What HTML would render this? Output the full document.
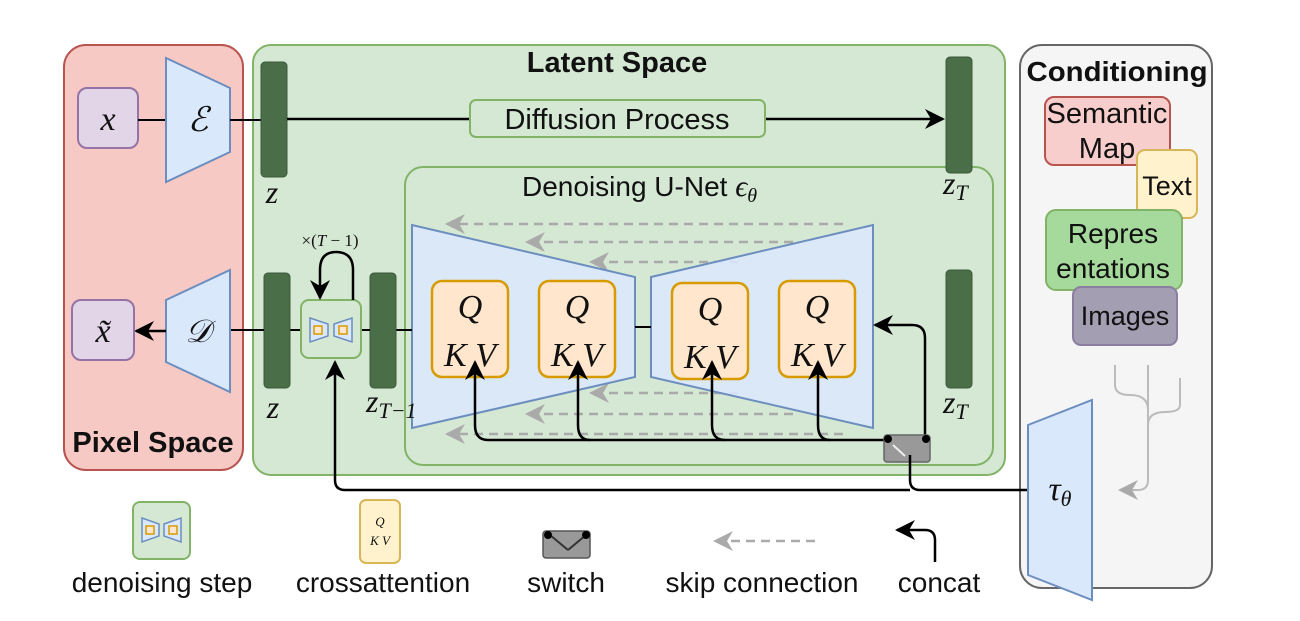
<!DOCTYPE html>
<html><head><meta charset="utf-8"><style>
body{margin:0;background:#fff}
svg{display:block}
.t{font-family:"Liberation Sans",sans-serif;fill:#111}
.m{font-family:"Liberation Serif",serif;font-style:italic;fill:#111}
</style></head><body>
<svg width="1300" height="621" viewBox="0 0 1300 621" xmlns="http://www.w3.org/2000/svg">
<defs>
<marker id="ag" markerWidth="20" markerHeight="20" refX="18" refY="10" orient="auto" markerUnits="userSpaceOnUse"><path d="M20,0 L0,10 L20,20 L14,10 Z" fill="#aaa" transform="rotate(180 10 10)"/></marker>
<marker id="abig" markerWidth="20" markerHeight="20" refX="18" refY="10" orient="auto" markerUnits="userSpaceOnUse"><path d="M0,0 L20,10 L0,20 L6,10 Z" fill="#000"/></marker>
</defs>
<!-- panels -->
<rect x="64" y="45" width="179" height="425" rx="22" fill="#f6c9c5" stroke="#b85450" stroke-width="2"/>
<text class="t" x="153" y="452" font-size="29" font-weight="bold" text-anchor="middle">Pixel Space</text>
<rect x="253" y="45" width="752" height="430" rx="18" fill="#d5e8d4" stroke="#82b366" stroke-width="2"/>
<text class="t" x="617" y="72" font-size="29" font-weight="bold" text-anchor="middle">Latent Space</text>
<rect x="1020" y="45" width="192" height="543" rx="22" fill="#f5f5f5" stroke="#666" stroke-width="2"/>
<text class="t" x="1117" y="81" font-size="28" font-weight="bold" text-anchor="middle" textLength="181" lengthAdjust="spacingAndGlyphs">Conditioning</text>
<!-- top row -->
<rect x="78" y="88" width="60" height="60" rx="9" fill="#e1d5e7" stroke="#9673a6" stroke-width="2"/>
<text class="m" x="108" y="130" font-size="34" text-anchor="middle">x</text>
<line x1="138" y1="120" x2="166" y2="120" stroke="#000" stroke-width="2"/>
<polygon points="166,58 230,88 230,152 166,182" fill="#dae8fc" stroke="#6c8ebf" stroke-width="2"/>
<text class="m" x="198" y="131" font-size="34" text-anchor="middle">ℰ</text>
<line x1="230" y1="120" x2="261" y2="120" stroke="#000" stroke-width="2"/>
<rect x="261" y="62" width="26" height="115" rx="4" fill="#4a6e48" stroke="#3a5a38"/>
<text class="m" x="272" y="203" font-size="32" text-anchor="middle">z</text>
<line x1="287" y1="119" x2="943" y2="119" stroke="#000" stroke-width="2.5" marker-end="url(#abig)"/>
<rect x="470" y="100" width="295" height="37" rx="6" fill="#d5e8d4" stroke="#82b366" stroke-width="2"/>
<text class="t" x="617" y="129" font-size="29" text-anchor="middle">Diffusion Process</text>
<!-- UNet box -->
<rect x="405" y="167" width="588" height="298" rx="18" fill="#d5e8d4" stroke="#82b366" stroke-width="2"/>
<text class="t" x="522" y="196" font-size="28">Denoising U-Net <tspan class="m" font-size="30">ϵ<tspan font-size="20" dy="6">θ</tspan></tspan></text>
<rect x="946" y="57" width="26" height="116" rx="4" fill="#4a6e48" stroke="#3a5a38"/>
<text class="m" x="943" y="194" font-size="32">z<tspan font-size="22" dy="6">T</tspan></text>
<!-- skip dashed -->
<g stroke="#aaa" stroke-width="2.5" stroke-dasharray="9,6" fill="none">
<line x1="843" y1="224" x2="447" y2="224" marker-end="url(#ag)"/>
<line x1="793" y1="242" x2="527" y2="242" marker-end="url(#ag)"/>
<line x1="738" y1="262" x2="591" y2="262" marker-end="url(#ag)"/>
<line x1="738" y1="393" x2="591" y2="393" marker-end="url(#ag)"/>
<line x1="793" y1="414" x2="527" y2="414" marker-end="url(#ag)"/>
<line x1="843" y1="434" x2="447" y2="434" marker-end="url(#ag)"/>
</g>
<polygon points="412,225 635,277 635,377 412,428" fill="#dae8fc" fill-opacity="0.9" stroke="#6c8ebf" stroke-width="2"/>
<polygon points="651,277 873,225 873,428 651,377" fill="#dae8fc" fill-opacity="0.9" stroke="#6c8ebf" stroke-width="2"/>
<line x1="635" y1="327" x2="651" y2="327" stroke="#000" stroke-width="2"/>
<g>
<rect x="432" y="281" width="76" height="96" rx="10" fill="#ffe6cc" stroke="#d79b00" stroke-width="2.5"/>
<rect x="539" y="281" width="76" height="96" rx="10" fill="#ffe6cc" stroke="#d79b00" stroke-width="2.5"/>
<rect x="672" y="283" width="76" height="96" rx="10" fill="#ffe6cc" stroke="#d79b00" stroke-width="2.5"/>
<rect x="779" y="281" width="76" height="96" rx="10" fill="#ffe6cc" stroke="#d79b00" stroke-width="2.5"/>
</g>
<g class="m" font-size="34" text-anchor="middle">
<text x="470" y="318">Q</text><text x="470" y="366">K V</text>
<text x="577" y="318">Q</text><text x="577" y="366">K V</text>
<text x="710" y="320">Q</text><text x="710" y="368">K V</text>
<text x="817" y="318">Q</text><text x="817" y="366">K V</text>
</g>
<!-- cross attention lines -->
<g stroke="#000" stroke-width="2.5" fill="none">
<path d="M905,440 L488,440 Q475,440 475,425 L475,362" marker-end="url(#abig)"/>
<path d="M590,440 Q578,440 578,425 L578,362" marker-end="url(#abig)"/>
<path d="M725,440 Q712,440 712,425 L712,362" marker-end="url(#abig)"/>
<path d="M830,440 Q818,440 818,425 L818,362" marker-end="url(#abig)"/>
<path d="M925,440 L925,338 Q925,325 912,325 L875,325" marker-end="url(#abig)"/>
</g>
<rect x="884" y="435" width="46" height="27" rx="3" fill="#999" stroke="#666" stroke-width="1.5"/>
<line x1="893" y1="445" x2="905" y2="456" stroke="#eee" stroke-width="2"/>
<circle cx="888" cy="439" r="4" fill="#000"/><circle cx="926" cy="439" r="4" fill="#000"/>
<path d="M910,455 L910,480 Q910,490 920,490 L1030,490" stroke="#000" stroke-width="2.5" fill="none"/>
<path d="M910,490 L345,490 Q335,490 335,480 L335,362" stroke="#000" stroke-width="2.5" fill="none" marker-end="url(#abig)"/>
<!-- bottom row -->
<rect x="946" y="270" width="26" height="118" rx="4" fill="#4a6e48" stroke="#3a5a38"/>
<text class="m" x="943" y="413" font-size="32">z<tspan font-size="22" dy="6">T</tspan></text>
<line x1="396" y1="330" x2="412" y2="330" stroke="#000" stroke-width="2"/>
<rect x="370" y="273" width="26" height="115" rx="4" fill="#4a6e48" stroke="#3a5a38"/>
<text class="m" x="366" y="412" font-size="32">z<tspan font-size="22" dy="6">T−1</tspan></text>
<line x1="361" y1="330" x2="370" y2="330" stroke="#000" stroke-width="2"/>
<line x1="290" y1="330" x2="301" y2="330" stroke="#000" stroke-width="2"/>
<rect x="301" y="300" width="60" height="58" rx="8" fill="#d5e8d4" stroke="#82b366" stroke-width="2"/>
<polygon points="310,318 328,324 328,336 310,342" fill="#dae8fc" stroke="#6c8ebf" stroke-width="1.5"/>
<polygon points="334,324 352,318 352,342 334,336" fill="#dae8fc" stroke="#6c8ebf" stroke-width="1.5"/>
<rect x="314" y="326" width="8" height="8" fill="#ffe6cc" stroke="#d79b00" stroke-width="1.5"/>
<rect x="339" y="326" width="8" height="8" fill="#ffe6cc" stroke="#d79b00" stroke-width="1.5"/>
<path d="M353,300 L353,270 Q353,252 336,252 Q320,252 320,270 L320,298" stroke="#000" stroke-width="2.5" fill="none" marker-end="url(#abig)"/>
<text class="m" x="330" y="246" font-size="17" text-anchor="middle" style="font-style:normal">×(<tspan font-style="italic">T</tspan> − 1)</text>
<rect x="264" y="273" width="26" height="115" rx="4" fill="#4a6e48" stroke="#3a5a38"/>
<text class="m" x="273" y="418" font-size="32" text-anchor="middle">z</text>
<line x1="230" y1="330" x2="264" y2="330" stroke="#000" stroke-width="2"/>
<polygon points="166,300 230,270 230,392 166,362" fill="#dae8fc" stroke="#6c8ebf" stroke-width="2"/>
<text class="m" x="198" y="342" font-size="32" text-anchor="middle">𝒟</text>
<line x1="166" y1="331" x2="136" y2="331" stroke="#000" stroke-width="2.5" marker-end="url(#abig)"/>
<rect x="72" y="300" width="62" height="60" rx="9" fill="#e1d5e7" stroke="#9673a6" stroke-width="2"/>
<text class="m" x="103" y="342" font-size="34" text-anchor="middle">x̃</text>
<!-- conditioning contents -->
<rect x="1045" y="97" width="125" height="68" rx="9" fill="#f8cecc" stroke="#b85450" stroke-width="2"/>
<text class="t" x="1107" y="123" font-size="29" text-anchor="middle">Semantic</text>
<text class="t" x="1107" y="158" font-size="29" text-anchor="middle">Map</text>
<rect x="1137" y="150" width="60" height="68" rx="8" fill="#fff2cc" stroke="#d6b656" stroke-width="2"/>
<text class="t" x="1167" y="195" font-size="27" text-anchor="middle">Text</text>
<rect x="1046" y="210" width="136" height="80" rx="10" fill="#a6da9c" stroke="#82b366" stroke-width="2"/>
<text class="t" x="1113" y="243" font-size="28" text-anchor="middle" fill="#1e4a1e">Repres</text>
<text class="t" x="1113" y="278" font-size="28" text-anchor="middle" fill="#1e4a1e">entations</text>
<rect x="1073" y="287" width="104" height="58" rx="8" fill="#a39eb2" stroke="#8a7fa0" stroke-width="2"/>
<text class="t" x="1125" y="325" font-size="27" text-anchor="middle">Images</text>
<g stroke="#bbb" stroke-width="2" fill="none">
<path d="M1115,365 L1115,385 Q1115,395 1130,395 Q1148,395 1148,410"/>
<path d="M1148,365 L1148,480 Q1148,490 1138,490 L1120,490" marker-end="url(#ag)"/>
<path d="M1180,378 L1180,405 Q1180,412 1165,412 Q1148,412 1148,425"/>
</g>
<polygon points="1028,425 1092,400 1092,600 1028,575" fill="#dae8fc" stroke="#6c8ebf" stroke-width="2"/>
<text class="m" x="1060" y="500" font-size="34" text-anchor="middle">τ<tspan font-size="22" dy="6">θ</tspan></text>
<!-- legend -->
<rect x="133" y="502" width="57" height="57" rx="7" fill="#d5e8d4" stroke="#82b366" stroke-width="2"/>
<polygon points="142,518 159,524 159,536 142,542" fill="#dae8fc" stroke="#6c8ebf" stroke-width="1.5"/>
<polygon points="164,524 181,518 181,542 164,536" fill="#dae8fc" stroke="#6c8ebf" stroke-width="1.5"/>
<rect x="146" y="526" width="8" height="8" fill="#ffe6cc" stroke="#d79b00" stroke-width="1.5"/>
<rect x="169" y="526" width="8" height="8" fill="#ffe6cc" stroke="#d79b00" stroke-width="1.5"/>
<text class="t" x="162" y="592" font-size="28" text-anchor="middle">denoising step</text>
<rect x="360" y="500" width="40" height="63" rx="6" fill="#fff2cc" stroke="#d6b656" stroke-width="2"/>
<text class="m" x="380" y="526" font-size="13" text-anchor="middle">Q</text>
<text class="m" x="380" y="545" font-size="13" text-anchor="middle">K V</text>
<text class="t" x="383" y="592" font-size="28" text-anchor="middle">crossattention</text>
<rect x="543" y="531" width="47" height="27" rx="3" fill="#999" stroke="#555" stroke-width="1.5"/>
<line x1="550" y1="535" x2="568" y2="550" stroke="#333" stroke-width="2"/>
<line x1="568" y1="550" x2="586" y2="535" stroke="#333" stroke-width="2"/>
<circle cx="548" cy="535" r="4" fill="#000"/><circle cx="586" cy="535" r="4" fill="#000"/>
<text class="t" x="566" y="592" font-size="28" text-anchor="middle">switch</text>
<line x1="815" y1="541" x2="715" y2="541" stroke="#aaa" stroke-width="2.5" stroke-dasharray="9,6" marker-end="url(#ag)"/>
<text class="t" x="762" y="592" font-size="28" text-anchor="middle">skip connection</text>
<path d="M935,562 L935,540 Q935,530 925,530 L897,530" stroke="#000" stroke-width="2.5" fill="none" marker-end="url(#abig)"/>
<text class="t" x="939" y="592" font-size="28" text-anchor="middle">concat</text>
</svg>
</body></html>
